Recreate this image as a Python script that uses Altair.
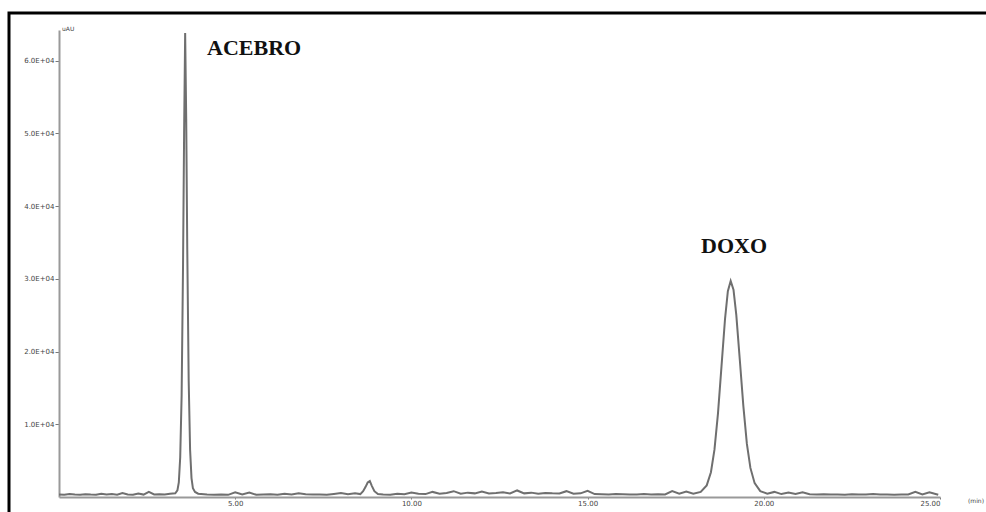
import altair as alt
import pandas as pd

# Chromatogram trace: retention time (min) and detector signal (uAU)
times = [
    0.0, 0.15, 0.3, 0.45, 0.6, 0.75, 0.9, 1.05, 1.2, 1.35, 1.5, 1.65, 1.8, 1.95,
    2.1, 2.25, 2.4, 2.55, 2.7, 2.85, 3.0, 3.15, 3.3,
    # ACEBRO peak
    3.36, 3.40, 3.44, 3.48, 3.52, 3.55, 3.58, 3.61, 3.64, 3.68, 3.72, 3.76, 3.80, 3.86, 3.95,
    4.2, 4.4, 4.6, 4.8, 5.0, 5.2, 5.4, 5.6, 5.8, 6.0, 6.2, 6.4, 6.6, 6.8, 7.0,
    7.2, 7.4, 7.6, 7.8, 8.0, 8.2, 8.4, 8.55,
    # minor peak
    8.63, 8.70, 8.76, 8.82, 8.88, 8.95, 9.05,
    9.2, 9.4, 9.6, 9.8, 10.0, 10.2, 10.4, 10.6, 10.8, 11.0, 11.2, 11.4, 11.6, 11.8,
    12.0, 12.2, 12.4, 12.6, 12.8, 13.0, 13.2, 13.4, 13.6, 13.8, 14.0, 14.2, 14.4,
    14.6, 14.8, 15.0, 15.2, 15.4, 15.6, 15.8, 16.0, 16.2, 16.4, 16.6, 16.8, 17.0,
    17.2, 17.4, 17.6, 17.8, 18.0,
    # DOXO peak
    18.21, 18.38, 18.5, 18.6, 18.7, 18.8, 18.9, 18.98, 19.06, 19.14, 19.22, 19.32,
    19.42, 19.52, 19.62, 19.74, 19.9, 20.1,
    20.3, 20.5, 20.7, 20.9, 21.1, 21.3, 21.5, 21.7, 21.9, 22.1, 22.3, 22.5, 22.7,
    22.9, 23.1, 23.3, 23.5, 23.7, 23.9, 24.1, 24.3, 24.5, 24.7, 24.95,
]
signal = [
    350, 300, 420, 350, 300, 380, 330, 300, 450, 350, 400, 320, 550, 350,
    300, 480, 330, 700, 350, 380, 330, 450, 500,
    900, 2000, 5500, 14000, 32000, 50000, 63800, 52000, 34000, 16000, 6500, 2600, 1200, 700, 450,
    330, 300, 350, 300, 650, 350, 600, 300, 330, 380, 300, 450, 350, 500, 380,
    330, 350, 300, 420, 550, 380, 500, 400,
    800, 1400, 2000, 2200, 1500, 800, 400,
    350, 320, 450, 380, 600, 450, 400, 700, 450, 550, 800, 450, 600, 500,
    750, 480, 550, 650, 480, 900, 500, 600, 450, 550, 500, 480, 800,
    450, 500, 850, 400, 380, 350, 420, 380, 350, 330, 400, 350, 380,
    350, 800, 450, 750, 450,
    700, 1600, 3400, 6500, 11500, 18000, 24500, 28300, 29700, 28500, 25000, 18800,
    12500, 7300, 4000, 1900, 800, 450,
    700, 400, 600, 420, 650, 380, 350, 380, 330, 350, 300, 380, 330,
    350, 420, 330, 350, 300, 330, 350, 700, 350, 650, 300,
]

# Peak labels
peak_names = ["ACEBRO", "DOXO"]
label_time = [4.2, 18.22]
label_signal = [60800, 33600]

y_ticks = [10000, 20000, 30000, 40000, 50000, 60000]
x_ticks = [5, 10, 15, 20, 25]

trace = pd.DataFrame({"time": times, "signal": signal})
labels = pd.DataFrame({"name": peak_names, "time": label_time, "signal": label_signal})

x_scale = alt.Scale(domain=[0, 25], nice=False, zero=False)
y_scale = alt.Scale(domain=[0, 64200], nice=False)

axis_common = dict(
    grid=False,
    domainColor="#999999",
    domainWidth=2,
    tickColor="#777777",
    labelFontSize=7,
    labelColor="#444444",
    labelFont="DejaVu Sans",
    title=None,
)

line = alt.Chart(trace).mark_line(color="#6f6f6f", strokeWidth=2).encode(
    x=alt.X("time:Q", scale=x_scale,
            axis=alt.Axis(values=x_ticks, format=".2f", labelPadding=0, tickSize=2,
                          **axis_common)),
    y=alt.Y("signal:Q", scale=y_scale,
            axis=alt.Axis(values=y_ticks, labelPadding=1, tickSize=4,
                          labelExpr="format(datum.value / 10000, '.1f') + 'E+04'",
                          **axis_common)),
)

peak_text = alt.Chart(labels).mark_text(
    font="Liberation Serif", fontWeight="bold", fontSize=22,
    align="left", baseline="alphabetic", color="#111111",
).encode(x="time:Q", y="signal:Q", text="name:N")

unit_y = alt.Chart(pd.DataFrame({"t": ["uAU"]})).mark_text(
    fontSize=6, font="DejaVu Sans", color="#444444", align="left", baseline="middle",
).encode(x=alt.value(3), y=alt.value(-1), text="t:N")

unit_x = alt.Chart(pd.DataFrame({"t": ["(min)"]})).mark_text(
    fontSize=6, font="DejaVu Sans", color="#444444", align="left", baseline="middle",
).encode(x=alt.value(909), y=alt.value(471), text="t:N")

# Outer black frame around the figure
frame = alt.Chart(pd.DataFrame({"k": [0]})).mark_rect(
    filled=False, stroke="black", strokeWidth=3,
).encode(x=alt.value(-50), x2=alt.value(1000), y=alt.value(-17), y2=alt.value(600))

chart = alt.layer(frame, line, peak_text, unit_y, unit_x).properties(
    width=881,
    height=467,
    padding={"left": 59, "top": 30, "right": 46, "bottom": 15},
    autosize=alt.AutoSizeParams(type="none"),
    background="white",
).configure_view(stroke=None)

chart.save("out.html", embed_options={"renderer": "svg", "actions": False})
